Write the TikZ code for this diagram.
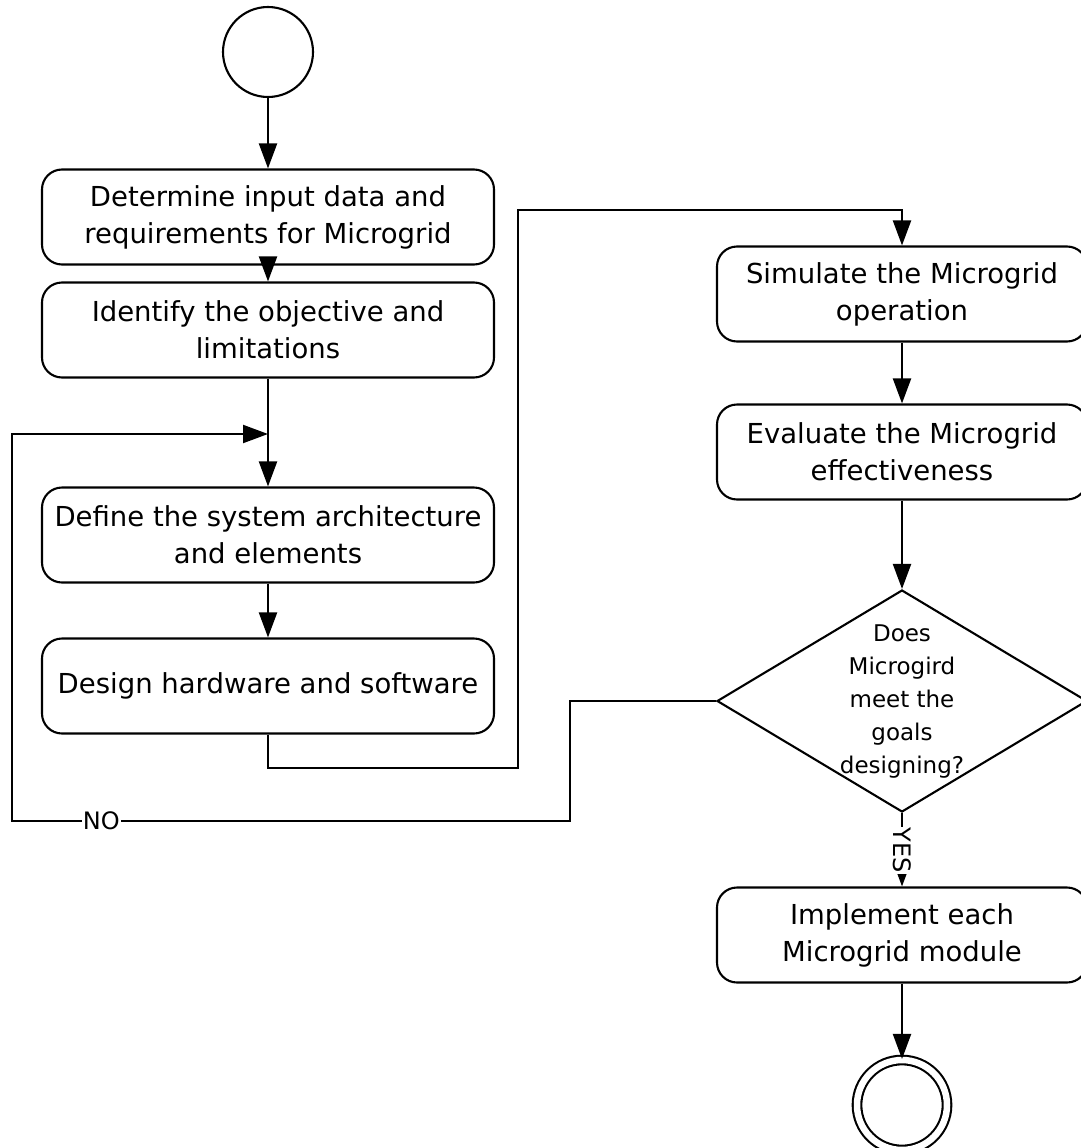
\documentclass[tikz,border=0pt]{standalone}
\usepackage{fontspec}
\setmainfont{DejaVu Sans}
\usetikzlibrary{arrows.meta,shapes.geometric}

\begin{document}
\begin{tikzpicture}[x=1pt,y=-1pt,line width=2.1pt,
  flowbox/.style={draw,rounded corners=20pt,minimum width=452pt,minimum height=95pt,
    align=center,inner sep=0pt,font=\fontsize{27.5}{37}\selectfont},
  rbox/.style={flowbox,minimum width=370pt},
  arr/.style={-{Triangle[length=25pt,width=18pt]}},
  lbl/.style={fill=white,inner sep=1pt,font=\fontsize{24}{28}\selectfont}]
\useasboundingbox (0,0) rectangle (1081,1148);

% start and end states
\node[draw,circle,minimum size=90pt,inner sep=0pt] (start) at (268,52) {};
\node[draw,circle,minimum size=90pt,inner sep=0pt,double,double distance=6.5pt] (stop) at (902,1105) {};

% left column
\node[flowbox] (b1) at (268,217) {Determine input data and\\requirements for Microgrid};
\node[flowbox] (b2) at (268,330) {Identify the objective and\\limitations};
\node[flowbox] (b3) at (268,535) {Define the system architecture\\and elements};
\node[flowbox] (b4) at (268,686) {Design hardware and software};

% right column
\node[rbox] (b5) at (902,294) {Simulate the Microgrid\\operation};
\node[rbox] (b6) at (902,452) {Evaluate the Microgrid\\effectiveness};
\node[draw,diamond,minimum width=370pt,minimum height=222pt,inner sep=0pt] (dec) at (902,701) {};
\node[align=center,font=\fontsize{23}{33}\selectfont] at (dec) {Does\\Microgird\\meet the\\goals\\designing?};
\node[rbox] (b7) at (902,935) {Implement each\\Microgrid module};

% routing points
\coordinate (j) at (268,434);
\coordinate (r1) at (268,768);
\coordinate (r2) at (518,768);
\coordinate (r3) at (518,210);
\coordinate (r4) at (902,210);
\coordinate (n1) at (570,701);
\coordinate (n2) at (570,821);
\coordinate (n3) at (12,821);
\coordinate (n4) at (12,434);

% connectors
\draw[arr] (start) -- (b1);
\draw[arr] (b1) -- (b2);
\draw[arr] (b2) -- (b3);
\draw[arr] (b3) -- (b4);
\draw[arr] (b4.south) -- (r1) -- (r2) -- (r3) -- (r4) -- (b5.north);
\draw[arr] (b5) -- (b6);
\draw[arr] (b6) -- (dec);
\draw[arr] (dec.west) -- (n1) -- (n2) -- node[lbl,pos=0.84] {NO} (n3) -- (n4) -- (j);
\draw[arr] (dec.south) -- node[lbl,rotate=-90,pos=0.51] {YES} (b7.north);
\draw[arr] (b7) -- (stop);
\end{tikzpicture}
\end{document}
